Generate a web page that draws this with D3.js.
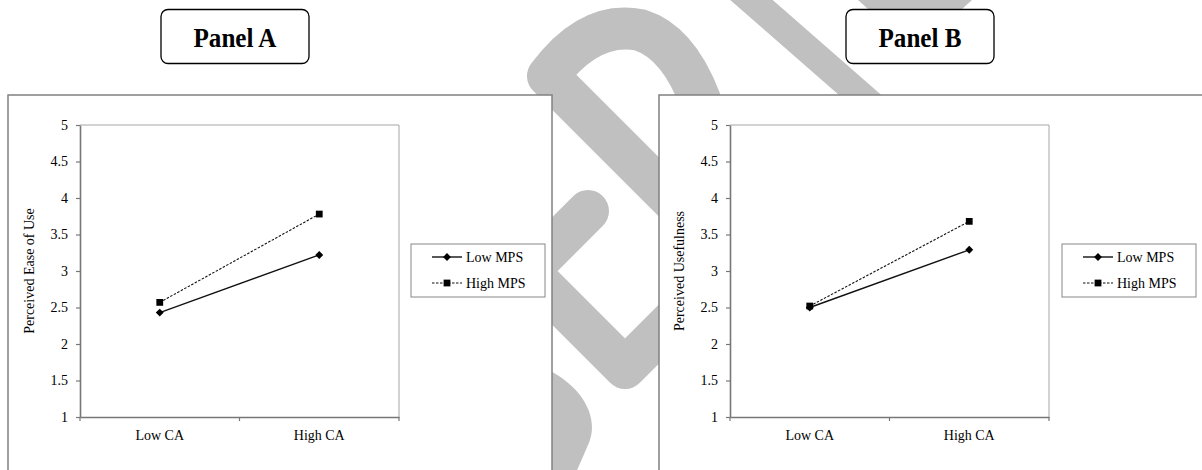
<!DOCTYPE html>
<html>
<head>
<meta charset="utf-8">
<script src="https://cdn.jsdelivr.net/npm/d3@7"></script>
<style>
  body { margin: 0; background: #fff; }
  svg { display: block; }
</style>
</head>
<body>
<div id="chart"></div>
<script>
// values
const categories = ["Low CA", "High CA"];
const seriesNames = ["Low MPS", "High MPS"];
const easeLowMPS = [2.43, 3.22];
const easeHighMPS = [2.57, 3.78];
const usefulLowMPS = [2.50, 3.29];
const usefulHighMPS = [2.52, 3.68];
const yTicks = [1, 1.5, 2, 2.5, 3, 3.5, 4, 4.5, 5];

const width = 1202, height = 470;
const serif = "'Liberation Serif', 'Times New Roman', Tinos, 'DejaVu Serif', serif";

const svg = d3.select("#chart").append("svg")
  .attr("width", width)
  .attr("height", height)
  .style("font-family", serif);

// grey watermark behind the panels
const wm = svg.append("g")
  .attr("fill", "none")
  .attr("stroke", "#c0c0c0")
  .attr("stroke-linecap", "round")
  .attr("stroke-linejoin", "round");
wm.append("path").attr("stroke-width", 42)
  .attr("d", "M700,228 L548,76 Q590,20 640,30 Q678,42 700,100");
wm.append("path").attr("stroke-width", 42)
  .attr("d", "M588,211 L528,271 L625,368 L720,273");
wm.append("path").attr("stroke-width", 28)
  .attr("d", "M740,-10 L875,108");
wm.append("path").attr("stroke", "none").attr("fill", "#c0c0c0")
  .attr("d", "M540,366 C585,385 600,420 588,445 L575,475 L540,475 Z");
wm.append("path").attr("stroke", "none").attr("fill", "#c0c0c0")
  .attr("d", "M858,0 L972,0 L962,9 L915,13 L868,9 Z");

const panels = [
  { title: "Panel A", yLabel: "Perceived Ease of Use", low: easeLowMPS, high: easeHighMPS,
    frameX: 8, boxX: 161, plotX: 80, legendX: 411 },
  { title: "Panel B", yLabel: "Perceived Usefulness", low: usefulLowMPS, high: usefulHighMPS,
    frameX: 659, boxX: 846, plotX: 730, legendX: 1062 }
];

const plotTop = 125, plotW = 319, plotH = 292;

panels.forEach(p => {
  // outer frame
  svg.append("rect")
    .attr("x", p.frameX).attr("y", 95)
    .attr("width", 544).attr("height", 420)
    .attr("fill", "#fff").attr("stroke", "#808080").attr("stroke-width", 1.5);

  // title box
  svg.append("rect")
    .attr("x", p.boxX).attr("y", 9.5)
    .attr("width", 148).attr("height", 54)
    .attr("rx", 7)
    .attr("fill", "#fff").attr("stroke", "#000").attr("stroke-width", 1.3);
  svg.append("text")
    .attr("x", p.boxX + 74).attr("y", 46.5)
    .attr("text-anchor", "middle")
    .style("font-family", serif)
    .style("font-size", "27px").style("font-weight", "bold")
    .attr("textLength", 83).attr("lengthAdjust", "spacingAndGlyphs")
    .text(p.title);

  const g = svg.append("g")
    .attr("transform", "translate(" + p.plotX + "," + plotTop + ")");

  const x = d3.scaleBand().domain(categories).range([0, plotW]).padding(0);
  const y = d3.scaleLinear().domain([1, 5]).range([plotH, 0]);

  // plot area border (top / right)
  g.append("path")
    .attr("d", "M0,0 H" + plotW + " V" + plotH)
    .attr("fill", "none").attr("stroke", "#a6a6a6").attr("stroke-width", 1);

  // y axis
  const yAxis = g.append("g")
    .call(d3.axisLeft(y).tickValues(yTicks).tickFormat(d3.format("")).tickSize(4).tickSizeOuter(0).tickPadding(8));
  yAxis.select(".domain").attr("stroke", "#777").attr("stroke-width", 1.6);
  yAxis.selectAll(".tick line").attr("stroke", "#777").attr("stroke-width", 1.2);
  yAxis.selectAll("text").style("font-family", serif).style("font-size", "14px").attr("fill", "#000");

  // x axis: labels centred on categories, ticks on the band edges
  const xAxis = g.append("g")
    .attr("transform", "translate(0," + plotH + ")")
    .call(d3.axisBottom(x).tickSize(0).tickPadding(13));
  xAxis.select(".domain").attr("stroke", "#777").attr("stroke-width", 1.6);
  xAxis.selectAll("text").style("font-family", serif).style("font-size", "14px").attr("fill", "#000");
  const edges = categories.map(c => x(c)).concat([x.range()[1]]);
  xAxis.selectAll(".edge")
    .data(edges)
    .enter().append("line")
      .attr("x1", d => d).attr("x2", d => d)
      .attr("y1", 0).attr("y2", 4)
      .attr("stroke", "#777").attr("stroke-width", 1.2);

  // y axis title
  svg.append("text")
    .attr("transform", "translate(" + (p.plotX - 46) + "," + (plotTop + plotH / 2) + ") rotate(-90)")
    .attr("text-anchor", "middle")
    .style("font-family", serif)
    .style("font-size", "14px")
    .text(p.yLabel);

  const cx = c => x(c) + x.bandwidth() / 2;
  const line = d3.line().x((d, i) => cx(categories[i])).y(d => y(d));

  // Low MPS: solid + diamonds
  g.append("path").datum(p.low)
    .attr("d", line).attr("fill", "none")
    .attr("stroke", "#111").attr("stroke-width", 1.4);
  // High MPS: dashed + squares
  g.append("path").datum(p.high)
    .attr("d", line).attr("fill", "none")
    .attr("stroke", "#111").attr("stroke-width", 1.1).attr("stroke-dasharray", "2.5,1.5");

  g.selectAll(".diamond").data(p.low).enter().append("path")
    .attr("transform", (d, i) => "translate(" + cx(categories[i]) + "," + y(d) + ")")
    .attr("d", d3.symbol(d3.symbolDiamond2, 40))
    .attr("fill", "#000");
  g.selectAll(".square").data(p.high).enter().append("path")
    .attr("transform", (d, i) => "translate(" + cx(categories[i]) + "," + y(d) + ")")
    .attr("d", d3.symbol(d3.symbolSquare, 46))
    .attr("fill", "#000");

  // legend
  const lg = svg.append("g").attr("transform", "translate(" + p.legendX + ",244)");
  lg.append("rect")
    .attr("width", 134).attr("height", 53)
    .attr("fill", "#fff").attr("stroke", "#888").attr("stroke-width", 1);
  seriesNames.forEach((name, i) => {
    const ly = 13 + i * 26;
    lg.append("line")
      .attr("x1", 21).attr("x2", 51).attr("y1", ly).attr("y2", ly)
      .attr("stroke", "#111").attr("stroke-width", i === 0 ? 1.4 : 1.1)
      .attr("stroke-dasharray", i === 0 ? null : "2.5,1.5");
    lg.append("path")
      .attr("transform", "translate(36," + ly + ")")
      .attr("d", d3.symbol(i === 0 ? d3.symbolDiamond2 : d3.symbolSquare, i === 0 ? 40 : 46))
      .attr("fill", "#000");
    lg.append("text")
      .attr("x", 55).attr("y", ly + 5)
      .style("font-family", serif)
      .style("font-size", "14px")
      .text(name);
  });
});
</script>
</body>
</html>
